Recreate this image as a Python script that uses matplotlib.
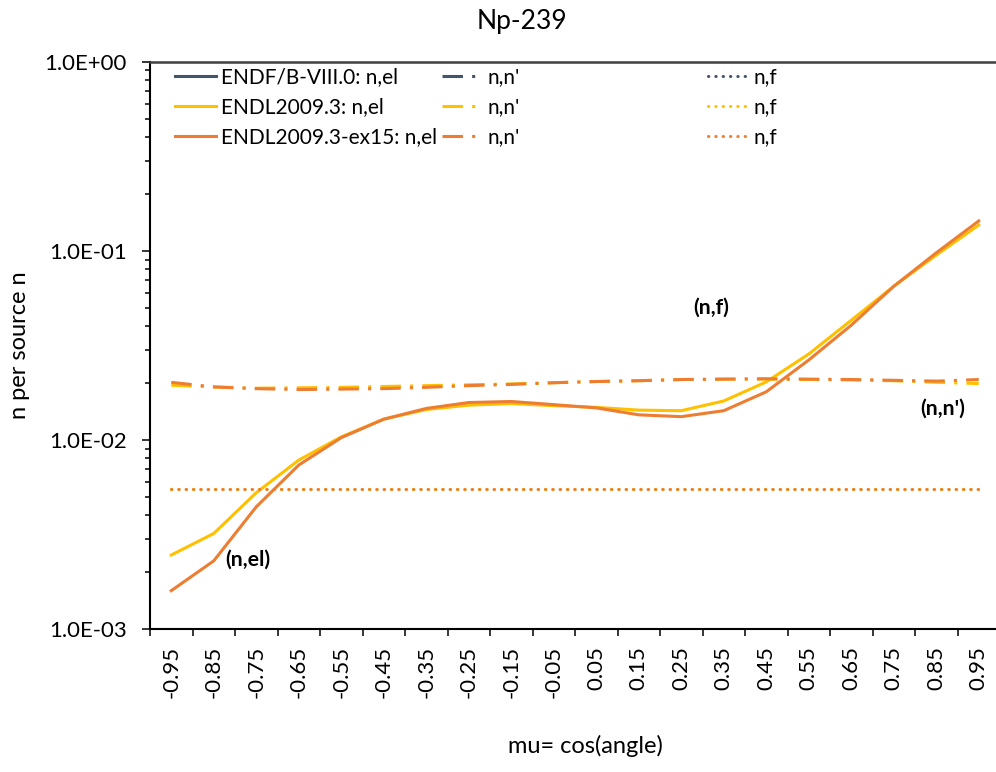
import matplotlib
matplotlib.use("Agg")
import matplotlib.pyplot as plt
from matplotlib.ticker import LogLocator, FuncFormatter, FixedLocator, NullFormatter

plt.rcParams['font.family'] = ['Lato', 'DejaVu Sans']

# cosine of scattering angle (bin centres)
mu_labels = ["-0.95", "-0.85", "-0.75", "-0.65", "-0.55", "-0.45", "-0.35",
             "-0.25", "-0.15", "-0.05", "0.05", "0.15", "0.25", "0.35",
             "0.45", "0.55", "0.65", "0.75", "0.85", "0.95"]

# ENDF/B-VIII.0 has no tabulated values here
endf_el = []
endf_inl = []
endf_fis = []

endl_el = [2.47e-3, 3.21e-3, 5.27e-3, 7.84e-3, 1.04e-2, 1.29e-2, 1.45e-2,
           1.53e-2, 1.56e-2, 1.52e-2, 1.49e-2, 1.44e-2, 1.43e-2, 1.61e-2,
           2.03e-2, 2.85e-2, 4.30e-2, 6.50e-2, 9.50e-2, 1.37e-1]
endl_inl = [1.95e-2, 1.91e-2, 1.88e-2, 1.89e-2, 1.90e-2, 1.92e-2, 1.94e-2,
            1.96e-2, 1.98e-2, 2.01e-2, 2.04e-2, 2.06e-2, 2.09e-2, 2.10e-2,
            2.10e-2, 2.09e-2, 2.08e-2, 2.06e-2, 2.02e-2, 1.99e-2]
endl_fis = [5.5e-3, 5.5e-3, 5.5e-3, 5.5e-3, 5.5e-3, 5.5e-3, 5.5e-3,
            5.5e-3, 5.5e-3, 5.5e-3, 5.5e-3, 5.5e-3, 5.5e-3, 5.5e-3,
            5.5e-3, 5.5e-3, 5.5e-3, 5.5e-3, 5.5e-3, 5.5e-3]

ex15_el = [1.60e-3, 2.30e-3, 4.44e-3, 7.38e-3, 1.03e-2, 1.29e-2, 1.47e-2,
           1.58e-2, 1.60e-2, 1.54e-2, 1.48e-2, 1.36e-2, 1.33e-2, 1.43e-2,
           1.80e-2, 2.65e-2, 4.05e-2, 6.50e-2, 9.77e-2, 1.44e-1]
ex15_inl = [2.02e-2, 1.91e-2, 1.87e-2, 1.85e-2, 1.86e-2, 1.87e-2, 1.90e-2,
            1.94e-2, 1.97e-2, 2.01e-2, 2.04e-2, 2.06e-2, 2.09e-2, 2.10e-2,
            2.11e-2, 2.10e-2, 2.09e-2, 2.07e-2, 2.05e-2, 2.09e-2]
ex15_fis = [5.5e-3, 5.5e-3, 5.5e-3, 5.5e-3, 5.5e-3, 5.5e-3, 5.5e-3,
            5.5e-3, 5.5e-3, 5.5e-3, 5.5e-3, 5.5e-3, 5.5e-3, 5.5e-3,
            5.5e-3, 5.5e-3, 5.5e-3, 5.5e-3, 5.5e-3, 5.5e-3]

libraries = ["ENDF/B-VIII.0", "ENDL2009.3", "ENDL2009.3-ex15"]
colors = ["#44546A", "#FFC000", "#ED7D31"]

W, H = 996, 772
fig = plt.figure(figsize=(W / 100, H / 100), dpi=100)
ax = fig.add_axes([150 / W, (H - 629.3) / H, 850 / W, (629.3 - 61.7) / H])

LW = 2.2
dashdot = (0, (6.7, 3.0, 1.0, 3.0))
dotted = (0, (0.1, 2.3))

xs = list(range(len(mu_labels)))
series = [(endf_el, endf_inl, endf_fis), (endl_el, endl_inl, endl_fis),
          (ex15_el, ex15_inl, ex15_fis)]

h_el, h_inl, h_fis = [], [], []
for (el, inl, fis), c in zip(series, colors):
    l1, = ax.plot(xs[:len(el)], el, color=c, lw=LW, solid_joinstyle='round')
    l2, = ax.plot(xs[:len(inl)], inl, color=c, lw=LW, linestyle=dashdot,
                  dash_capstyle='butt')
    l3, = ax.plot(xs[:len(fis)], fis, color=c, lw=LW, linestyle=dotted,
                  dash_capstyle='round')
    h_el.append(l1)
    h_inl.append(l2)
    h_fis.append(l3)

ax.set_yscale('log')
ax.set_ylim(1e-3, 1.0)
ax.set_xlim(-0.5, len(mu_labels) - 0.5)

ax.yaxis.set_major_locator(LogLocator(base=10, numticks=10))
ax.yaxis.set_minor_locator(LogLocator(base=10, subs=range(2, 10), numticks=100))
ax.yaxis.set_major_formatter(FuncFormatter(lambda v, p: f"{v:.1E}"))
ax.yaxis.set_minor_formatter(NullFormatter())

ax.set_xticks(xs)
ax.set_xticklabels(mu_labels, rotation=90)
ax.xaxis.set_minor_locator(FixedLocator([i - 0.5 for i in range(len(mu_labels) + 1)]))

ax.tick_params(axis='x', which='major', length=0, pad=12, labelsize=16)
ax.tick_params(axis='x', which='minor', length=5, width=1.1, color='black')
ax.tick_params(axis='y', which='major', length=5.8, width=1.1, pad=11, labelsize=16)
ax.tick_params(axis='y', which='minor', length=3.6, width=1.1)

for s in ['left', 'bottom']:
    ax.spines[s].set_color('black')
    ax.spines[s].set_linewidth(1.5)
ax.spines['top'].set_color('#404040')
ax.spines['top'].set_linewidth(1.8)
ax.spines['right'].set_visible(False)

# series annotations
ax.text(1.8, 2.32e-3, "(n,el)", fontsize=15.3, fontweight='bold', ha='center', va='center')
ax.text(12.7, 5.02e-2, "(n,f)", fontsize=15.3, fontweight='bold', ha='center', va='center')
ax.text(18.16, 1.47e-2, "(n,n')", fontsize=15.3, fontweight='bold', ha='center', va='center')

# legend: three columns placed independently
leg_kw = dict(loc='upper left', frameon=False, borderpad=0, borderaxespad=0,
              handlelength=1.95, handletextpad=0.25, labelspacing=0.48,
              fontsize=15, bbox_transform=fig.transFigure)
top = 1 - 67 / H
leg1 = ax.legend(h_el, [f"{n}: n,el" for n in libraries],
                 bbox_to_anchor=(175 / W, top), **leg_kw)
ax.add_artist(leg1)
leg2 = ax.legend(h_inl, ["n,n'"] * 3, bbox_to_anchor=(441.7 / W, top), **leg_kw)
ax.add_artist(leg2)
ax.legend(h_fis, ["n,f"] * 3, bbox_to_anchor=(708 / W, top), **leg_kw)

fig.text(521.7 / W, 1 - 29.3 / H, "Np-239", fontsize=19, ha='center', va='baseline')
fig.text(585 / W, 1 - 753 / H, "mu= cos(angle)", fontsize=17, ha='center', va='baseline')
fig.text(19.5 / W, 1 - 345.5 / H, "n per source n", fontsize=17, rotation=90,
         ha='center', va='center')

fig.savefig("out.png", dpi=100, facecolor='white')
